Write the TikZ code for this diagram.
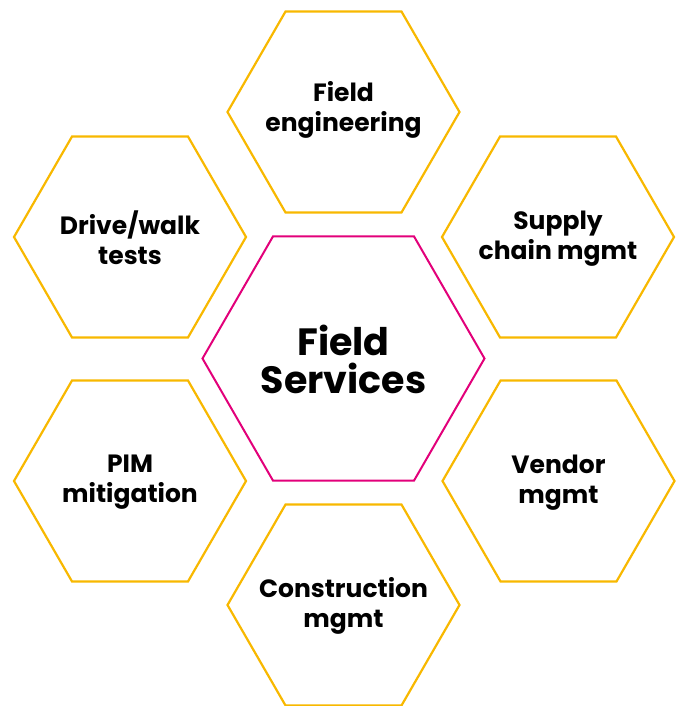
\documentclass[tikz,border=0pt]{standalone}
\usepackage{fontspec}
\setmainfont{Poppins}
\definecolor{hexyellow}{HTML}{F8B800}
\definecolor{hexpink}{HTML}{E2007A}
\tikzset{
  lbl/.style={inner sep=0pt, align=center, anchor=north,
    font=\fontsize{25}{30}\selectfont\bfseries, text=black,
    execute at begin node={\rule{0pt}{20pt}}},
  lblmain/.style={inner sep=0pt, align=center, anchor=north,
    font=\fontsize{38}{38.3}\selectfont\bfseries, text=black,
    execute at begin node={\rule{0pt}{32pt}}},
  hexline/.style={draw=hexyellow, line width=2.2pt, line join=miter},
  hexmainline/.style={draw=hexpink, line width=2pt, line join=miter}
}
\newcommand\hexat[3]{\draw[#3] (#1.center) ++(0:#2) -- ++(120:#2) -- ++(180:#2) -- ++(240:#2) -- ++(300:#2) -- ++(0:#2) -- cycle;}
\begin{document}
\begin{tikzpicture}[x=1pt,y=-1pt]
\useasboundingbox (0,0) rectangle (682,706);
\coordinate (fsc) at (343.5,358.5);
\coordinate (fec) at (343.5,112);
\coordinate (dwc) at (130,237);
\coordinate (scc) at (558,237);
\coordinate (pimc) at (130,481);
\coordinate (vmc) at (558.5,481);
\coordinate (cmc) at (343.5,605);
\node[lblmain] (fs) at (343.5,324.7) {Field\\Services};
\node[lbl] (fe) at ([yshift=31pt]fec) {Field\\engineering};
\node[lbl] (dw) at ([yshift=26pt]dwc) {Drive/walk\\tests};
\node[lbl] (sc) at ([yshift=26pt]scc) {Supply\\chain mgmt};
\node[lbl] (pim) at ([yshift=26pt]pimc) {PIM\\mitigation};
\node[lbl] (vm) at ([yshift=26pt]vmc) {Vendor\\mgmt};
\node[lbl] (cm) at ([yshift=28pt]cmc) {Construction\\mgmt};
\hexat{fsc}{141}{hexmainline}
\hexat{fec}{116}{hexline}
\hexat{dwc}{116}{hexline}
\hexat{scc}{116}{hexline}
\hexat{pimc}{116}{hexline}
\hexat{vmc}{116}{hexline}
\hexat{cmc}{116}{hexline}
\end{tikzpicture}
\end{document}
